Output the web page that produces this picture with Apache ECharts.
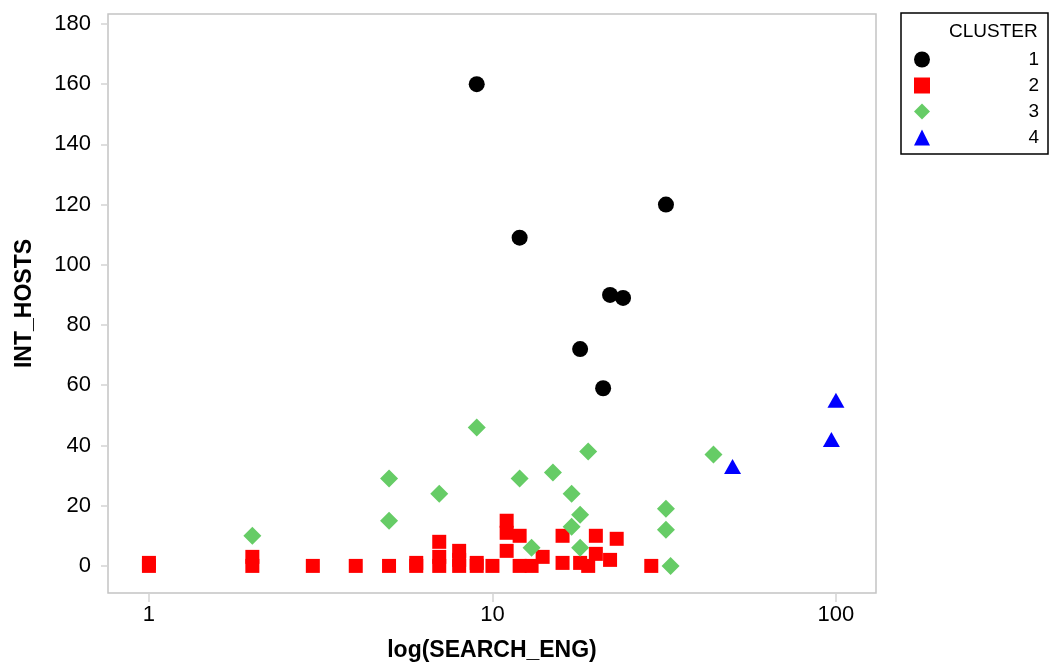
<!DOCTYPE html>
<html>
<head>
<meta charset="utf-8">
<script src="https://cdn.jsdelivr.net/npm/echarts@6/dist/echarts.min.js"></script>
<style>
html,body{margin:0;padding:0;background:#fff;}
#chart{width:1052px;height:668px;}
</style>
</head>
<body>
<div id="chart"></div>
<script>
// ---- data ----
var clusterNames = ['1', '2', '3', '4'];
var cluster1X = [9, 12, 32, 22, 24, 18, 21];
var cluster1Y = [160, 109, 120, 90, 89, 72, 59];
var cluster2X = [1, 1, 2, 2, 3, 4, 5, 6, 6, 7, 7, 7, 8, 8, 8, 9, 9, 10, 11, 11, 11, 12, 12, 13, 14, 16, 16, 18, 19, 20, 20, 22, 23, 29];
var cluster2Y = [0, 1, 0, 3, 0, 0, 0, 0, 1, 0, 3, 8, 0, 2, 5, 0, 1, 0, 5, 11, 15, 0, 10, 0, 3, 1, 10, 1, 0, 4, 10, 2, 9, 0];
var cluster3X = [2, 5, 5, 7, 9, 12, 15, 19, 17, 18, 17, 18, 13, 32, 32, 33, 44];
var cluster3Y = [10, 29, 15, 24, 46, 29, 31, 38, 24, 17, 13, 6, 6, 19, 12, 0, 37];
var cluster4X = [50, 97, 100];
var cluster4Y = [33, 42, 55];
var xTickValues = [1, 10, 100];
var yTickValues = [0, 20, 40, 60, 80, 100, 120, 140, 160, 180];

function pairs(xs, ys) {
  var out = [];
  for (var i = 0; i < xs.length; i++) out.push([xs[i], ys[i]]);
  return out;
}

var chart = echarts.init(document.getElementById('chart'), null, {renderer: 'canvas'});
var FONT = 'Liberation Sans, Arial, sans-serif';
var tickColor = '#d4d4d4';

var option = {
  backgroundColor: '#ffffff',
  animation: false,
  title: {
    text: 'CLUSTER',
    left: 949,
    top: 22,
    padding: 0,
    textStyle: {fontFamily: FONT, fontSize: 19, fontWeight: 'normal', color: '#000', lineHeight: 20}
  },
  legend: {
    orient: 'vertical',
    left: 901,
    top: 13,
    padding: [37, 9, 7, 13],
    itemGap: 7,
    itemWidth: 16,
    itemHeight: 16,
    borderColor: '#000',
    borderWidth: 1.5,
    data: clusterNames,
    formatter: function (n) { return '{a|' + n + '}'; },
    textStyle: {
      fontFamily: FONT, fontSize: 19, color: '#000',
      rich: {a: {width: 104, align: 'right', fontFamily: FONT, fontSize: 19, lineHeight: 16, color: '#000'}}
    }
  },
  grid: {
    left: 108, right: 176, top: 14, bottom: 75,
    show: true, borderColor: '#c4c4c4', borderWidth: 1.5, backgroundColor: '#fff'
  },
  xAxis: {
    type: 'log',
    logBase: 10,
    min: 0.76,
    max: 130.8,
    name: 'log(SEARCH_ENG)',
    nameLocation: 'middle',
    nameGap: 46,
    nameTextStyle: {fontFamily: FONT, fontSize: 23, fontWeight: 'bold', color: '#000'},
    axisLine: {show: false, onZero: false},
    axisTick: {show: true, customValues: xTickValues, length: 9, lineStyle: {color: tickColor, width: 1.5}},
    axisLabel: {customValues: xTickValues, margin: 11, fontFamily: FONT, fontSize: 22, color: '#000'},
    splitLine: {show: false}
  },
  yAxis: {
    type: 'value',
    min: -9,
    max: 183.3,
    name: 'INT_HOSTS',
    nameLocation: 'middle',
    nameGap: 72,
    nameRotate: 90,
    nameTextStyle: {fontFamily: FONT, fontSize: 23, fontWeight: 'bold', color: '#000'},
    axisLine: {show: false, onZero: false},
    axisTick: {show: true, customValues: yTickValues, length: 7, lineStyle: {color: tickColor, width: 1.5}},
    axisLabel: {customValues: yTickValues, margin: 17, fontFamily: FONT, fontSize: 22, color: '#000'},
    splitLine: {show: false}
  },
  series: [
    {name: clusterNames[0], type: 'scatter', symbol: 'circle', symbolSize: 16,
     itemStyle: {color: '#000000', opacity: 1}, data: pairs(cluster1X, cluster1Y)},
    {name: clusterNames[1], type: 'scatter', symbol: 'rect', symbolSize: 14,
     itemStyle: {color: '#ff0000', opacity: 1}, data: pairs(cluster2X, cluster2Y)},
    {name: clusterNames[2], type: 'scatter', symbol: 'diamond', symbolSize: 18,
     itemStyle: {color: '#66cc66', opacity: 1}, data: pairs(cluster3X, cluster3Y)},
    {name: clusterNames[3], type: 'scatter', symbol: 'triangle', symbolSize: [17, 15],
     itemStyle: {color: '#0000ff', opacity: 1}, data: pairs(cluster4X, cluster4Y)}
  ]
};
chart.setOption(option);
</script>
</body>
</html>
